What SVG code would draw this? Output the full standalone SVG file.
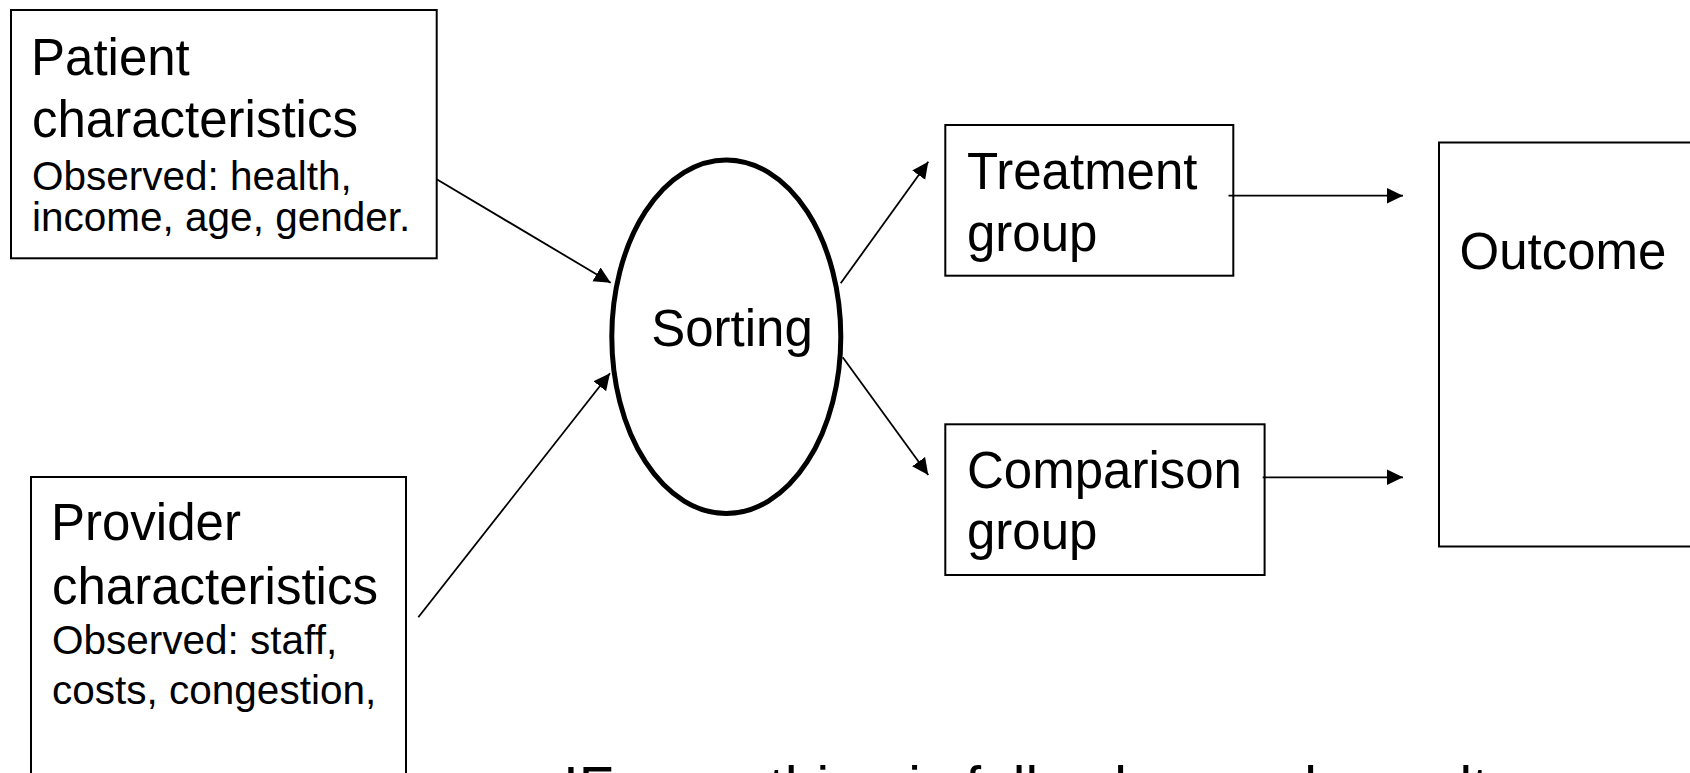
<svg xmlns="http://www.w3.org/2000/svg" width="1690" height="773" viewBox="0 0 1690 773">
<style>
.box{fill:#fff;stroke:#000;stroke-width:2}
.big{font-family:"Liberation Sans",Arial,sans-serif;font-size:51px;fill:#000}
.small{font-family:"Liberation Sans",Arial,sans-serif;font-size:40.5px;fill:#000}
.note{font-family:"Liberation Sans",Arial,sans-serif;font-size:57px;fill:#000}
.edge{stroke:#000;stroke-width:1.8;fill:none;marker-end:url(#ah)}
</style>
<defs>
<marker id="ah" markerUnits="userSpaceOnUse" markerWidth="17" markerHeight="17" refX="16.5" refY="8" orient="auto" viewBox="0 0 17 16">
<path d="M0,0 L16.5,8 L0,16 z" fill="#000"/>
</marker>
</defs>
<rect width="1690" height="773" fill="#fff"/>
<g id="patient">
<rect class="box" x="11" y="10" width="425.7" height="248.3"/>
<text class="big" x="31" y="75">Patient</text>
<text class="big" x="32" y="136.5">characteristics</text>
<text class="small" x="32" y="190">Observed: health,</text>
<text class="small" x="32" y="231">income, age, gender.</text>
</g>
<g id="provider">
<rect class="box" x="31" y="477" width="375" height="330"/>
<text class="big" x="51" y="540">Provider</text>
<text class="big" x="52" y="603.5">characteristics</text>
<text class="small" x="52" y="654">Observed: staff,</text>
<text class="small" x="52" y="704">costs, congestion,</text>
</g>
<g id="sorting">
<ellipse cx="726.3" cy="336.7" rx="114.5" ry="176.8" fill="#fff" stroke="#000" stroke-width="5"/>
<text class="big" x="732" y="346" text-anchor="middle">Sorting</text>
</g>
<g id="treatment">
<rect class="box" x="945.3" y="125" width="288" height="150.7"/>
<text class="big" x="967" y="189">Treatment</text>
<text class="big" x="967" y="251">group</text>
</g>
<g id="comparison">
<rect class="box" x="945.3" y="424.3" width="319.3" height="150.7"/>
<text class="big" x="967" y="487.5">Comparison</text>
<text class="big" x="967" y="549">group</text>
</g>
<g id="outcome">
<rect class="box" x="1439" y="142.5" width="300" height="404"/>
<text class="big" x="1459.5" y="269">Outcome</text>
</g>
<g id="connectors">
<line class="edge" x1="436.7" y1="179.3" x2="610.7" y2="282.7"/>
<line class="edge" x1="418.3" y1="617.3" x2="610" y2="373.3"/>
<line class="edge" x1="840.7" y1="283.3" x2="928.3" y2="161.7"/>
<line class="edge" x1="842.7" y1="357.3" x2="928.3" y2="475"/>
<line class="edge" x1="1228.5" y1="195.7" x2="1403" y2="195.7"/>
<line class="edge" x1="1262.7" y1="477.3" x2="1403" y2="477.3"/>
</g>
<g id="note">
<text class="note" x="563" y="807">IF everything is fully observed, results are not biased</text>
</g>
</svg>
